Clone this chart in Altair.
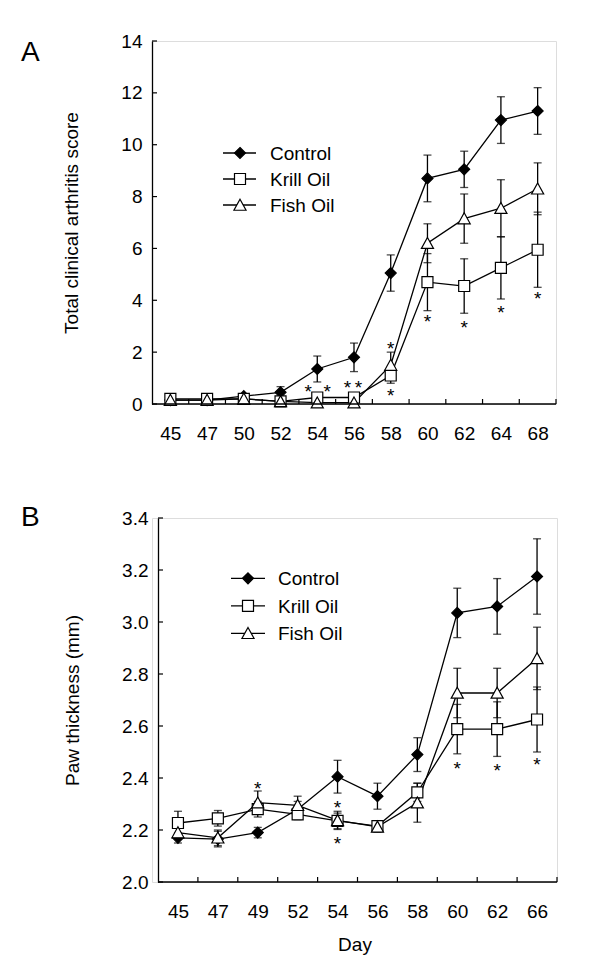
import altair as alt
import pandas as pd

FONT = "Liberation Sans"
GROUPS = ["Control", "Krill Oil", "Fish Oil"]

# ---------------- Panel A: total clinical arthritis score ----------------
a_days = ["45", "47", "50", "52", "54", "56", "58", "60", "62", "64", "68"]
a_control = [0.15, 0.15, 0.30, 0.45, 1.35, 1.80, 5.05, 8.70, 9.05, 10.95, 11.30]
a_control_err = [0.05, 0.05, 0.10, 0.22, 0.50, 0.55, 0.70, 0.90, 0.70, 0.90, 0.90]
a_krill = [0.20, 0.20, 0.20, 0.10, 0.25, 0.25, 1.10, 4.70, 4.55, 5.25, 5.95]
a_krill_err = [0.05, 0.05, 0.05, 0.08, 0.08, 0.08, 0.30, 1.10, 1.05, 1.20, 1.45]
a_fish = [0.15, 0.15, 0.20, 0.10, 0.05, 0.05, 1.50, 6.20, 7.15, 7.55, 8.30]
a_fish_err = [0.05, 0.05, 0.05, 0.08, 0.04, 0.04, 0.50, 0.75, 0.95, 1.10, 1.00]
a_yticks = [0, 2, 4, 6, 8, 10, 12, 14]
# significance asterisks (category position, value)
a_star_x = [3.75, 4.27, 4.82, 5.12, 6.0, 6.0, 7.0, 8.0, 9.0, 10.0]
a_star_y = [0.66, 0.66, 0.81, 0.81, 2.31, 0.50, 3.36, 3.12, 3.70, 4.24]

# ---------------- Panel B: paw thickness ----------------
b_days = ["45", "47", "49", "52", "54", "56", "58", "60", "62", "66"]
b_control = [2.170, 2.165, 2.190, 2.280, 2.405, 2.330, 2.490, 3.035, 3.060, 3.175]
b_control_err = [0.020, 0.030, 0.020, 0.030, 0.063, 0.050, 0.065, 0.095, 0.107, 0.145]
b_krill = [2.227, 2.245, 2.280, 2.260, 2.235, 2.215, 2.345, 2.588, 2.588, 2.625]
b_krill_err = [0.045, 0.030, 0.030, 0.020, 0.030, 0.020, 0.035, 0.095, 0.105, 0.125]
b_fish = [2.190, 2.170, 2.305, 2.295, 2.237, 2.212, 2.305, 2.727, 2.727, 2.860]
b_fish_err = [0.020, 0.030, 0.045, 0.035, 0.035, 0.020, 0.075, 0.095, 0.095, 0.120]
b_yticks = [2.0, 2.2, 2.4, 2.6, 2.8, 3.0, 3.2, 3.4]
b_star_x = [2.0, 4.0, 4.0, 7.0, 8.0, 9.0]
b_star_y = [2.378, 2.305, 2.167, 2.455, 2.445, 2.468]

# marker shapes and fills
SHAPES = ["M0,-1L1,0L0,1L-1,0Z", "M-1,-1H1V1H-1Z", "M0,-1.05L1.1,0.95L-1.1,0.95Z"]
FILLS = ["black", "white", "white"]


def long_df(days, series, errs):
    rows = []
    for g, means, es in zip(GROUPS, series, errs):
        for i, (m, e) in enumerate(zip(means, es)):
            rows.append({"group": g, "idx": i, "day": days[i], "mean": m,
                         "lo": m - e, "hi": m + e})
    return pd.DataFrame(rows)


def panel(letter, days, series, errs, ydomain, yticks, yfmt, ytitle, width, height, yoff,
          star_x, star_y, letter_x, letter_y, leg, xtitle):
    n = len(days)
    df = long_df(days, series, errs)
    band = (width - yoff) / n
    xscale = alt.Scale(domain=[-0.5 - yoff / band, n - 0.5], nice=False, zero=False)
    yscale = alt.Scale(domain=ydomain, nice=False, zero=False)
    label_expr = "[" + ",".join("'%s'" % d for d in days) + "][datum.value]"

    xaxis = alt.Axis(values=list(range(n)), labelExpr=label_expr, ticks=False, tickSize=0,
                     grid=False, domain=False, labelPadding=20,
                     labelFontSize=19, labelColor="black", titleFontSize=19,
                     titleFontWeight="normal", titleColor="black", titlePadding=14,
                     labelFlush=False, orient="bottom")
    yaxis = alt.Axis(values=yticks, format=yfmt, ticks=False, tickSize=0, grid=False,
                     domainColor="black", domainWidth=1.3, labelPadding=10,
                     labelFontSize=19, labelColor="black", titleFontSize=19,
                     titleFontWeight="normal", titleColor="black", titlePadding=39,
                     orient="left", offset=-yoff)

    def X(field):
        return alt.X(field, scale=xscale, axis=xaxis, title=xtitle)

    def Y(field):
        return alt.Y(field, scale=yscale, axis=yaxis, title=ytitle)

    base = alt.Chart(df)

    err_rule = base.mark_rule(color="black", strokeWidth=1.3).encode(
        x=X("idx:Q"), y=Y("lo:Q"), y2="hi:Q")
    cap_lo = base.mark_tick(color="black", orient="horizontal", size=8, thickness=1.3).encode(
        x=X("idx:Q"), y=Y("lo:Q"))
    cap_hi = base.mark_tick(color="black", orient="horizontal", size=8, thickness=1.3).encode(
        x=X("idx:Q"), y=Y("hi:Q"))

    lines = base.mark_line(color="black", strokeWidth=1.3).encode(
        x=X("idx:Q"), y=Y("mean:Q"), detail="group:N", order="idx:Q")

    points = base.mark_point(stroke="black", strokeWidth=1.2, opacity=1, fillOpacity=1,
                             size=121).encode(
        x=X("idx:Q"), y=Y("mean:Q"),
        shape=alt.Shape("group:N", scale=alt.Scale(domain=GROUPS, range=SHAPES), legend=None),
        fill=alt.Fill("group:N", scale=alt.Scale(domain=GROUPS, range=FILLS), legend=None),
    )

    stars = alt.Chart(pd.DataFrame({"sx": star_x, "sy": star_y})).mark_text(
        text="*", fontSize=19, baseline="middle", align="center", dy=5, color="black"
    ).encode(x=X("sx:Q"), y=Y("sy:Q"))

    # x-axis line (from the first to the last category boundary)
    xline = alt.Chart(pd.DataFrame({"x0": [-0.5], "x1": [n - 0.5], "y0": [ydomain[0]]})).mark_rule(
        color="black", strokeWidth=1.3).encode(x=X("x0:Q"), x2="x1:Q", y=Y("y0:Q"))

    # inward ticks
    ytick_rules = alt.Chart(pd.DataFrame({"v": yticks})).mark_rule(
        color="black", strokeWidth=1.2).encode(
        y=Y("v:Q"), x=alt.value(yoff), x2=alt.value(yoff + 5))
    bounds = [i + 0.5 for i in range(n)]
    xtick_rules = alt.Chart(pd.DataFrame({"b": bounds})).mark_rule(
        color="black", strokeWidth=1.2).encode(
        x=X("b:Q"), y=alt.value(height), y2=alt.value(height - 5))

    letter_layer = alt.Chart(pd.DataFrame({"letter": [letter]})).mark_text(
        fontSize=28, align="left", baseline="alphabetic", color="black"
    ).encode(x=alt.value(letter_x), y=alt.value(letter_y), text="letter:N")

    # legend: line stub + marker + label for each group
    lx1, lx2, cx, tx, ly0, lstep = leg
    legend_layers = []
    for i, g in enumerate(GROUPS):
        ly = ly0 + i * lstep
        gdf = pd.DataFrame({"group": [g]})
        legend_layers.append(alt.Chart(gdf).mark_rule(color="black", strokeWidth=1.3).encode(
            x=alt.value(lx1), x2=alt.value(lx2), y=alt.value(ly)))
        legend_layers.append(alt.Chart(gdf).mark_point(
            stroke="black", strokeWidth=1.2, opacity=1, fillOpacity=1, size=121).encode(
            x=alt.value(cx), y=alt.value(ly), shape=alt.value(SHAPES[i]),
            fill=alt.value(FILLS[i])))
        legend_layers.append(alt.Chart(gdf).mark_text(
            fontSize=19, align="left", baseline="middle", dy=1, color="black").encode(
            x=alt.value(tx), y=alt.value(ly), text="group:N"))

    return alt.layer(
        err_rule, cap_lo, cap_hi, lines, points, stars, xline,
        ytick_rules, xtick_rules, letter_layer, *legend_layers
    ).properties(width=width, height=height)


# both plot areas start at the same x; panel B's y axis sits 6 px further right
chart_a = panel("A", a_days, [a_control, a_krill, a_fish],
                [a_control_err, a_krill_err, a_fish_err],
                [0, 14], a_yticks, "d", "Total clinical arthritis score", 404, 363, 0,
                a_star_x, a_star_y, -131, 20, (71, 104, 88, 118, 112, 26), None)
chart_b = panel("B", b_days, [b_control, b_krill, b_fish],
                [b_control_err, b_krill_err, b_fish_err],
                [2.0, 3.4], b_yticks, ".1f", "Paw thickness (mm)", 405, 364, 6,
                b_star_x, b_star_y, -131, 7.5, (79, 113, 96, 126, 60.3, 27.5), "Day")

chart = alt.concat(chart_a, chart_b, columns=1, spacing=59).properties(
    padding={"left": 12, "top": 23, "right": 5, "bottom": 5}
).configure_view(stroke=None).configure(font=FONT).configure_axis(
    labelFont=FONT, titleFont=FONT
).configure_text(font=FONT)

chart.save("out.html", embed_options={"renderer": "svg", "actions": False})
